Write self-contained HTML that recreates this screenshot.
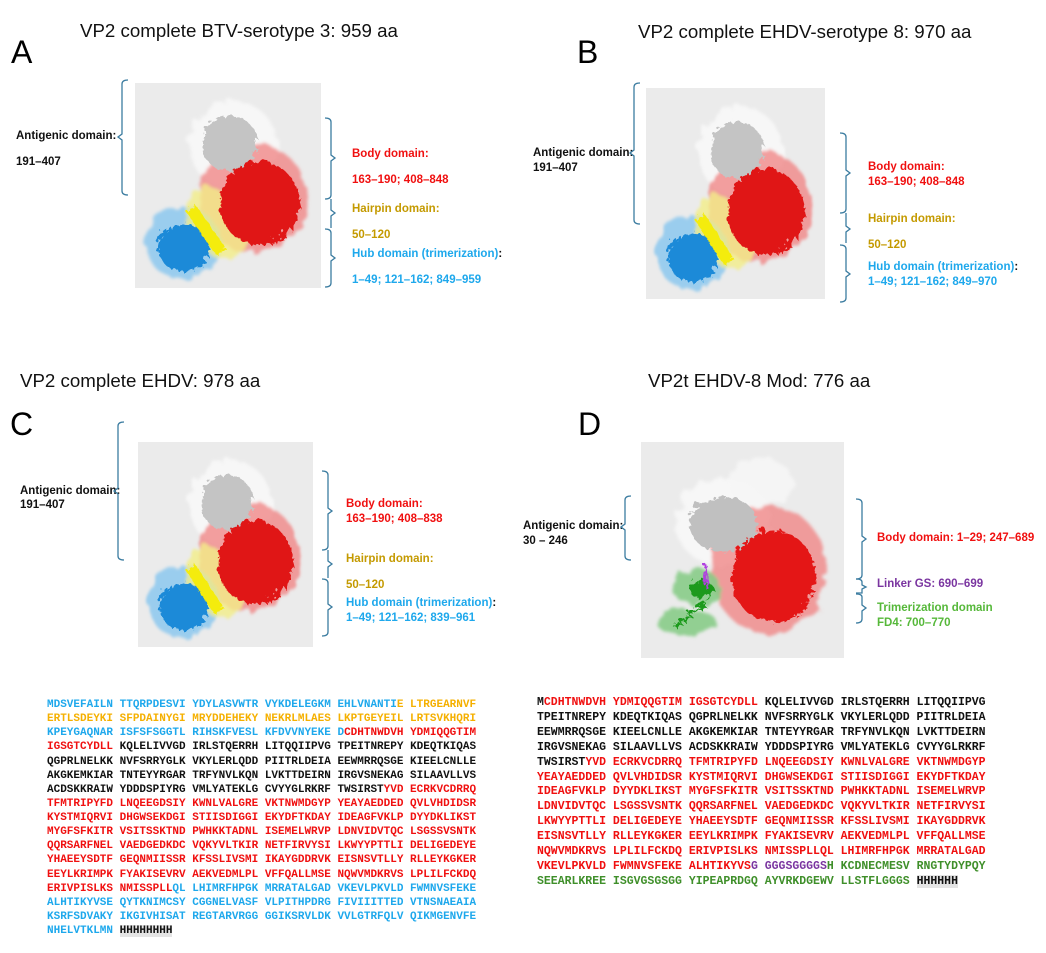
<!DOCTYPE html>
<html><head><meta charset="utf-8">
<style>
body{margin:0;width:1046px;height:953px;background:#fff;position:relative;overflow:hidden;font-family:"Liberation Sans",sans-serif}
.a{position:absolute;white-space:nowrap}
.t{font-size:18.7px;color:#111}
.L{font-size:32px;color:#000;line-height:1}
.lb{font-size:11.5px;font-weight:bold;line-height:1}
.k{color:#111}.r{color:#f01010}.g{color:#c49a00}.sg{color:#f5b000}.b{color:#1ea8ec}.p{color:#7a35a0}.gr{color:#3f8f2a}.gn{color:#56b83a}
.seq{position:absolute;font-family:"Liberation Mono",monospace;font-weight:bold;white-space:pre;margin:0}
.box{position:absolute;background:#ebebeb}
svg.br{position:absolute;left:0;top:0}
</style></head><body>
<svg width="0" height="0" style="position:absolute">
<defs>
<filter id="bl" x="-20%" y="-20%" width="140%" height="140%">
<feTurbulence type="fractalNoise" baseFrequency="0.08" numOctaves="2" seed="3" result="n"/>
<feDisplacementMap in="SourceGraphic" in2="n" scale="14" result="d"/>
<feGaussianBlur in="d" stdDeviation="1.5"/></filter>
<filter id="bs" x="-20%" y="-20%" width="140%" height="140%">
<feTurbulence type="turbulence" baseFrequency="0.12" numOctaves="2" seed="7" result="n"/>
<feDisplacementMap in="SourceGraphic" in2="n" scale="10"/></filter>
<symbol id="st" viewBox="0 0 186 205">
<g filter="url(#bl)">
<ellipse cx="98" cy="62" rx="44" ry="44" fill="#f8f8f8" opacity="0.95"/>
<ellipse cx="118" cy="115" rx="54" ry="55" fill="#f08080" opacity="0.75"/>
<ellipse cx="48" cy="160" rx="38" ry="36" fill="#8cc8ee" opacity="0.85"/>
<ellipse cx="82" cy="140" rx="28" ry="38" transform="rotate(-35 82 140)" fill="#f2ee88" opacity="0.8"/>
</g>
<g filter="url(#bs)">
<ellipse cx="92" cy="58" rx="28" ry="28" fill="#c4c4c4"/>
<ellipse cx="122" cy="118" rx="40" ry="42" fill="#e01818"/>
<ellipse cx="46" cy="162" rx="26" ry="24" fill="#1a8ad8"/>
<rect x="62" y="118" width="12" height="52" transform="rotate(-35 68 144)" fill="#f4ec10"/>
</g>
</symbol>
<symbol id="stD" viewBox="0 0 203 216">
<g filter="url(#bl)">
<ellipse cx="82" cy="80" rx="48" ry="44" fill="#f8f8f8" opacity="0.95"/>
<ellipse cx="120" cy="40" rx="32" ry="24" fill="#f6f6f6" opacity="0.9"/>
<ellipse cx="128" cy="128" rx="58" ry="64" fill="#f08080" opacity="0.75"/>
<ellipse cx="55" cy="145" rx="24" ry="18" fill="#88cc88" opacity="0.9"/>
<ellipse cx="45" cy="180" rx="30" ry="13" fill="#88cc88" opacity="0.9"/>
</g>
<g filter="url(#bs)">
<ellipse cx="80" cy="80" rx="34" ry="28" fill="#c0c0c0"/>
<ellipse cx="130" cy="132" rx="42" ry="46" fill="#e41414"/>
<ellipse cx="58" cy="145" rx="12" ry="9" fill="#1f9a1f"/>
<path d="M30 182 Q50 170 62 158" stroke="#1f9a1f" stroke-width="4" fill="none"/>
<path d="M62 120 L64 145" stroke="#b040e0" stroke-width="2" fill="none"/>
</g>
</symbol>
</defs></svg>

<!-- Panel A -->
<div class="a t" style="left:80px;top:20px">VP2 complete BTV-serotype 3: 959 aa</div>
<div class="a L" style="left:11px;top:36px">A</div>
<div class="box" style="left:135px;top:83px;width:186px;height:205px"><svg width="186" height="205"><use href="#st"/></svg></div>
<div class="a lb k" style="left:16px;top:131px">Antigenic domain:</div>
<div class="a lb k" style="left:16px;top:157px">191–407</div>
<div class="a lb r" style="left:352px;top:149px">Body domain:</div>
<div class="a lb r" style="left:352px;top:175px">163–190; 408–848</div>
<div class="a lb g" style="left:352px;top:204px">Hairpin domain:</div>
<div class="a lb g" style="left:352px;top:230px">50–120</div>
<div class="a lb b" style="left:352px;top:249px">Hub domain (trimerization)<span class="k">:</span></div>
<div class="a lb b" style="left:352px;top:275px">1–49; 121–162; 849–959</div>

<!-- Panel B -->
<div class="a t" style="left:638px;top:21px">VP2 complete EHDV-serotype 8: 970 aa</div>
<div class="a L" style="left:577px;top:36px">B</div>
<div class="box" style="left:646px;top:88px;width:179px;height:211px"><svg width="179" height="211" viewBox="0 0 186 205" preserveAspectRatio="none"><use href="#st"/></svg></div>
<div class="a lb k" style="left:533px;top:148px">Antigenic domain:</div>
<div class="a lb k" style="left:533px;top:163px">191–407</div>
<div class="a lb r" style="left:868px;top:162px">Body domain:</div>
<div class="a lb r" style="left:868px;top:177px">163–190; 408–848</div>
<div class="a lb g" style="left:868px;top:214px">Hairpin domain:</div>
<div class="a lb g" style="left:868px;top:240px">50–120</div>
<div class="a lb b" style="left:868px;top:262px">Hub domain (trimerization)<span class="k">:</span></div>
<div class="a lb b" style="left:868px;top:277px">1–49; 121–162; 849–970</div>

<!-- Panel C -->
<div class="a t" style="left:20px;top:370px">VP2 complete EHDV: 978 aa</div>
<div class="a L" style="left:10px;top:408px">C</div>
<div class="box" style="left:138px;top:442px;width:175px;height:205px"><svg width="175" height="205" viewBox="0 0 186 205" preserveAspectRatio="none"><use href="#st"/></svg></div>
<div class="a lb k" style="left:20px;top:486px">Antigenic domain:</div>
<div class="a lb k" style="left:20px;top:500px">191–407</div>
<div class="a lb r" style="left:346px;top:499px">Body domain:</div>
<div class="a lb r" style="left:346px;top:514px">163–190; 408–838</div>
<div class="a lb g" style="left:346px;top:554px">Hairpin domain:</div>
<div class="a lb g" style="left:346px;top:580px">50–120</div>
<div class="a lb b" style="left:346px;top:598px">Hub domain (trimerization)<span class="k">:</span></div>
<div class="a lb b" style="left:346px;top:613px">1–49; 121–162; 839–961</div>

<!-- Panel D -->
<div class="a t" style="left:648px;top:370px">VP2t EHDV-8 Mod: 776 aa</div>
<div class="a L" style="left:578px;top:408px">D</div>
<div class="box" style="left:641px;top:442px;width:203px;height:216px"><svg width="203" height="216"><use href="#stD"/></svg></div>
<div class="a lb k" style="left:523px;top:521px">Antigenic domain:</div>
<div class="a lb k" style="left:523px;top:536px">30 – 246</div>
<div class="a lb r" style="left:877px;top:533px">Body domain: 1–29; 247–689</div>
<div class="a lb p" style="left:877px;top:579px">Linker GS: 690–699</div>
<div class="a lb gn" style="left:877px;top:603px">Trimerization domain</div>
<div class="a lb gn" style="left:877px;top:618px">FD4: 700–770</div>

<!-- Brackets -->
<svg class="br" width="1046" height="953" fill="none" stroke="#3b7ca0" stroke-width="1.3">
<path d="M128 80 Q122 80 122 84 L122 134 L118 137 L122 140 L122 191 Q122 195 128 195"/>
<path d="M640 83 Q634 83 634 87 L634 150 L630 153 L634 156 L634 220 Q634 224 640 224"/>
<path d="M124 422 Q118 422 118 426 L118 488 L114 491 L118 494 L118 556 Q118 560 124 560"/>
<path d="M631 496 Q625 496 625 500 L625 524 L621 527 L625 530 L625 556 Q625 560 631 560"/>
<path d="M325 118 Q331 118 331 122 L331 155 L335 158 L331 161 L331 195 Q331 199 325 199"/>
<path d="M331 199 L331 210 L335 213 L331 216 L331 228"/>
<path d="M325 229 Q331 229 331 233 L331 255 L335 258 L331 261 L331 283 Q331 287 325 287"/>
<path d="M840 133 Q846 133 846 137 L846 170 L850 173 L846 176 L846 209 Q846 213 840 213"/>
<path d="M846 213 L846 226 L850 229 L846 232 L846 243"/>
<path d="M840 245 Q846 245 846 249 L846 271 L850 274 L846 277 L846 298 Q846 302 840 302"/>
<path d="M322 471 Q328 471 328 475 L328 508 L332 511 L328 514 L328 546 Q328 550 322 550"/>
<path d="M328 550 L328 561 L332 564 L328 567 L328 578"/>
<path d="M322 579 Q328 579 328 583 L328 604 L332 607 L328 610 L328 632 Q328 636 322 636"/>
<path d="M856 499 Q862 499 862 503 L862 536 L866 539 L862 542 L862 575 Q862 579 856 579"/>
<path d="M856 579 Q862 579 862 582 L862 585 L866 587 L862 589 L862 593 Q862 593 856 593"/>
<path d="M856 594 Q862 594 862 597 L862 605 L866 608 L862 611 L862 619 Q862 623 856 623"/>
</svg>

<!-- Sequences -->
<pre class="seq" style="left:47px;top:698px;font-size:11px;line-height:14.12px"><span class="b">MDSVEFAILN TTQRPDESVI YDYLASVWTR VYKDELEGKM EHLVNANTI</span><span class="sg">E LTRGEARNVF</span>
<span class="sg">ERTLSDEYKI SFPDAINYGI MRYDDEHEKY NEKRLMLAES LKPTGEYEIL LRTSVKHQRI</span>
<span class="b">KPEYGAQNAR ISFSFSGGTL RIHSKFVESL KFDVVNYEKE D</span><span class="r">CDHTNWDVH YDMIQQGTIM</span>
<span class="r">IGSGTCYDLL</span><span class="k"> KQLELIVVGD IRLSTQERRH LITQQIIPVG TPEITNREPY KDEQTKIQAS</span>
<span class="k">QGPRLNELKK NVFSRRYGLK VKYLERLQDD PIITRLDEIA EEWMRRQSGE KIEELCNLLE</span>
<span class="k">AKGKEMKIAR TNTEYYRGAR TRFYNVLKQN LVKTTDEIRN IRGVSNEKAG SILAAVLLVS</span>
<span class="k">ACDSKKRAIW YDDDSPIYRG VMLYATEKLG CVYYGLRKRF TWSIRST</span><span class="r">YVD ECRKVCDRRQ</span>
<span class="r">TFMTRIPYFD LNQEEGDSIY KWNLVALGRE VKTNWMDGYP YEAYAEDDED QVLVHDIDSR</span>
<span class="r">KYSTMIQRVI DHGWSEKDGI STIISDIGGI EKYDFTKDAY IDEAGFVKLP DYYDKLIKST</span>
<span class="r">MYGFSFKITR VSITSSKTND PWHKKTADNL ISEMELWRVP LDNVIDVTQC LSGSSVSNTK</span>
<span class="r">QQRSARFNEL VAEDGEDKDC VQKYVLTKIR NETFIRVYSI LKWYYPTTLI DELIGEDEYE</span>
<span class="r">YHAEEYSDTF GEQNMIISSR KFSSLIVSMI IKAYGDDRVK EISNSVTLLY RLLEYKGKER</span>
<span class="r">EEYLKRIMPK FYAKISEVRV AEKVEDMLPL VFFQALLMSE NQWVMDKRVS LPLILFCKDQ</span>
<span class="r">ERIVPISLKS NMISSPLL</span><span class="b">QL LHIMRFHPGK MRRATALGAD VKEVLPKVLD FWMNVSFEKE</span>
<span class="b">ALHTIKYVSE QYTKNIMCSY CGGNELVASF VLPITHPDRG FIVIIITTED VTNSNAEAIA</span>
<span class="b">KSRFSDVAKY IKGIVHISAT REGTARVRGG GGIKSRVLDK VVLGTRFQLV QIKMGENVFE</span>
<span class="b">NHELVTKLMN</span> <span class="k" style="background:#e4e4e4">HHHHHHHH</span></pre>

<pre class="seq" style="left:537px;top:696px;font-size:11.5px;line-height:14.9px"><span class="k">M</span><span class="r">CDHTNWDVH YDMIQQGTIM IGSGTCYDLL</span><span class="k"> KQLELIVVGD IRLSTQERRH LITQQIIPVG</span>
<span class="k">TPEITNREPY KDEQTKIQAS QGPRLNELKK NVFSRRYGLK VKYLERLQDD PIITRLDEIA</span>
<span class="k">EEWMRRQSGE KIEELCNLLE AKGKEMKIAR TNTEYYRGAR TRFYNVLKQN LVKTTDEIRN</span>
<span class="k">IRGVSNEKAG SILAAVLLVS ACDSKKRAIW YDDDSPIYRG VMLYATEKLG CVYYGLRKRF</span>
<span class="k">TWSIRST</span><span class="r">YVD ECRKVCDRRQ TFMTRIPYFD LNQEEGDSIY KWNLVALGRE VKTNWMDGYP</span>
<span class="r">YEAYAEDDED QVLVHDIDSR KYSTMIQRVI DHGWSEKDGI STIISDIGGI EKYDFTKDAY</span>
<span class="r">IDEAGFVKLP DYYDKLIKST MYGFSFKITR VSITSSKTND PWHKKTADNL ISEMELWRVP</span>
<span class="r">LDNVIDVTQC LSGSSVSNTK QQRSARFNEL VAEDGEDKDC VQKYVLTKIR NETFIRVYSI</span>
<span class="r">LKWYYPTTLI DELIGEDEYE YHAEEYSDTF GEQNMIISSR KFSSLIVSMI IKAYGDDRVK</span>
<span class="r">EISNSVTLLY RLLEYKGKER EEYLKRIMPK FYAKISEVRV AEKVEDMLPL VFFQALLMSE</span>
<span class="r">NQWVMDKRVS LPLILFCKDQ ERIVPISLKS NMISSPLLQL LHIMRFHPGK MRRATALGAD</span>
<span class="r">VKEVLPKVLD FWMNVSFEKE ALHTIKYVS</span><span class="p">G GGGSGGGGS</span><span class="gr">H KCDNECMESV RNGTYDYPQY</span>
<span class="gr">SEEARLKREE ISGVGSGSGG YIPEAPRDGQ AYVRKDGEWV LLSTFLGGGS</span> <span class="k" style="background:#e4e4e4">HHHHHH</span></pre>
</body></html>
